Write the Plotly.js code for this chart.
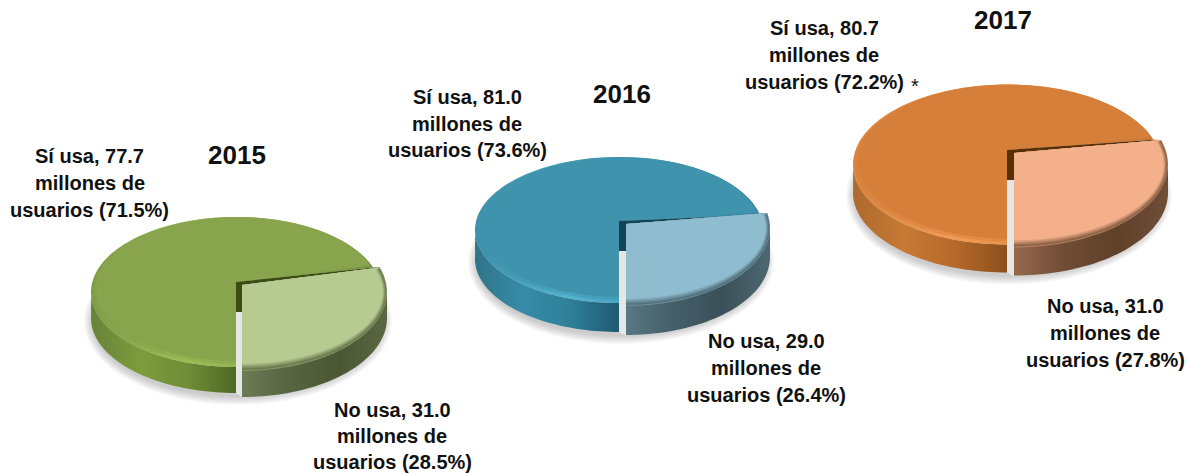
<!DOCTYPE html>
<html><head><meta charset="utf-8">
<script src="https://cdn.plot.ly/plotly-3.0.1.min.js"></script>
<style>html,body{margin:0;padding:0;background:#fff}#c{width:1189px;height:474px}</style></head>
<body><div id="c"></div>
<script>
// ---- data ----
const years    = ["2015", "2016", "2017"];
const siUsers  = ["77.7", "81.0", "80.7"];
const siShare  = [71.5, 73.6, 72.2];
const noUsers  = ["31.0", "29.0", "31.0"];
const noShare  = [28.5, 26.4, 27.8];

// ---- pie placement (like a domain for each pie) ----
const pies = [
 {cx:236,cy:292,rx:145,ry:75,ax:236,ay:282,depth:26,rot:6.5,sx:6,sy:3,smallDy:4,
  top:"#88a44c",small:"#b7ca91",rim:["#7f9b45","#9cbd55","#8fae49","#6f8a38"],
  wall:["#67823a","#7c9c3d","#6f8d36","#4e6a25"],wall2:["#6d7c55","#566440","#4b5733","#5b6643"],
  cut:"#3b4d12",
  title:[237,155],si:[89.5,[156,183,210]],no:[392,[410,436,462]]},
 {cx:619,cy:230,rx:144,ry:73,ax:619,ay:221,depth:29,rot:7,sx:7,sy:2,smallDy:5,
  top:"#4093ad",small:"#8fbccf",rim:["#3f8fa9","#52b4d0","#3f9ab6","#2f7f99"],
  wall:["#307389","#378ca8","#2f7f99","#1f5a70"],wall2:["#587883","#445e68","#3b5059","#4d6770"],
  cut:"#0f4557",
  title:[622,94],si:[467,[97,124,150]],no:[766,[341,368,395]]},
 {cx:1007,cy:164.5,rx:154,ry:80,ax:1007,ay:150,depth:28,rot:8,sx:7,sy:2,smallDy:3,
  top:"#d57f3b",small:"#f3b08a",rim:["#d98440","#f29a52","#e08a42","#c4722f"],
  wall:["#ad692f","#c67a33","#b5692a","#8c4f1c"],wall2:["#96694e","#6f4c36","#5f4029","#6f4e38"],
  cut:"#5a2f05",
  title:[1003,20],si:[824,[28,55,82]],no:[1105,[306,333,360]]}
];

// ---- helpers ----
function arc(p,rx,ry,dy,dx,t0,t1){
  const xs=[],ys=[],n=Math.max(2,Math.ceil(Math.abs(t1-t0)/2));
  for(let i=0;i<=n;i++){const t=(t0+(t1-t0)*i/n)*Math.PI/180;
    xs.push(p.cx+dx+rx*Math.sin(t));ys.push(p.cy+dy+ry*Math.cos(t));}
  return [xs,ys];
}
function scale(stops){return stops.map((c,i)=>[i/(stops.length-1),c]);}
function mix(a,b,f){const h=s=>[1,3,5].map(i=>parseInt(s.substr(i,2),16));const A=h(a),B=h(b);
  return "rgb("+A.map((v,i)=>Math.round(v+(B[i]-v)*f)).join(",")+")";}
function poly(x,y,color,grad){
  const tr={type:"scatter",mode:"none",x:x,y:y,fill:"toself",hoverinfo:"skip",showlegend:false};
  if(grad) tr.fillgradient={type:"horizontal",colorscale:scale(grad)}; else tr.fillcolor=color;
  return tr;
}
const traces=[], notes=[];
const font=(s)=>({family:'"Liberation Sans",Arial,sans-serif',size:s,color:"#111111"});
function note(x,y,t,s,plain){notes.push({x:x,y:y,xref:"x",yref:"y",text:plain?t:"<b>"+t+"</b>",showarrow:false,
  xanchor:"center",yanchor:"middle",font:font(s),borderpad:0});}

pies.forEach((p,k)=>{
  const split=noShare[k]*3.6+p.rot;           // boundary between the two slices, from the values
  const sx=p.sx, sy=p.sy, sd=p.smallDy;
  // soft ground shadow
  for(let i=0;i<7;i++){
    const a=arc(p,p.rx+1+i*1.3,p.ry+1+i*1.3,p.depth+3,2,0,360);
    traces.push(poly(a[0],a[1],"rgba(90,90,90,0.05)"));
  }
  // side wall of the large slice
  const wt=arc(p,p.rx,p.ry,0,0,268,360), wb=arc(p,p.rx,p.ry,p.depth,0,360,268);
  traces.push(poly(wt[0].concat(wb[0]),wt[1].concat(wb[1]),null,p.wall));
  // rim highlight + top face of the large slice
  const r0=arc(p,p.rx,p.ry,0,0,split,360);
  traces.push(poly([p.ax].concat(r0[0]),[p.ay].concat(r0[1]),null,p.rim));
  const rm=arc(p,p.rx-2,p.ry-2,-1,0.5,split,360);
  traces.push(Object.assign(poly([p.ax].concat(rm[0]),[p.ay].concat(rm[1]),p.top),{opacity:0.5}));
  const r1=arc(p,p.rx-4,p.ry-3,-3,1,split,360);
  traces.push(poly([p.ax].concat(r1[0]),[p.ay].concat(r1[1]),p.top));
  // cut faces
  const e=arc(p,p.rx,p.ry,0,0,split,split);
  const e2=arc(p,p.rx,p.ry+sd,sy-sd+1,sx,split-1,split-1);
  traces.push(poly([p.ax,e[0][0],e2[0][0],p.ax+sx,p.ax+sx,p.ax],
                   [p.ay,e[1][0],e2[1][0],p.ay+3,p.ay+30,p.ay+30],p.cut));
  // light gap between the slices
  traces.push(poly([p.ax,p.ax+sx,p.ax+sx,p.ax],
                   [p.ay+30,p.ay+30,p.cy+p.ry+p.depth+4,p.cy+p.ry+p.depth],"#e6e6e6"));
  // side wall of the small slice
  const st=arc(p,p.rx,p.ry+sd,sy-sd-2,sx,0,90), sb=arc(p,p.rx,p.ry+sd,sy-sd+1+p.depth,sx,90,0);
  traces.push(poly(st[0].concat(sb[0]),st[1].concat(sb[1]),null,p.wall2));
  // top face of the small slice, with soft front edge
  const layers=7;
  for(let i=0;i<layers;i++){
    const f=(i+1)/layers, g=i*1.2;
    const a=arc(p,p.rx-g*0.6,p.ry+sd-g,sy-sd+1,sx,0,split-1);
    traces.push(poly([p.ax+sx].concat(a[0]).concat([e2[0][0]]),[p.ay+3].concat(a[1]).concat([e2[1][0]]),i<1?mix(p.small,p.wall2[2],0.45):mix(p.wall2[2],p.small,f)));
  }
  // texts, built from the values
  note(p.title[0],p.title[1],years[k],26);
  const siL=["Sí usa, "+siUsers[k],"millones de","usuarios ("+siShare[k].toFixed(1)+"%)"];
  const noL=["No usa, "+noUsers[k],"millones de","usuarios ("+noShare[k].toFixed(1)+"%)"];
  siL.forEach((t,i)=>note(p.si[0],p.si[1][i],t,20));
  noL.forEach((t,i)=>note(p.no[0],p.no[1][i],t,20));
});
note(915,86,"*",20,true);

const hidden={visible:false,fixedrange:true};
Plotly.newPlot("c",traces,{
  width:1189,height:474,margin:{l:0,r:0,t:0,b:0},paper_bgcolor:"#fff",plot_bgcolor:"#fff",showlegend:false,
  xaxis:Object.assign({range:[0,1189]},hidden),
  yaxis:Object.assign({range:[474,0]},hidden),
  annotations:notes
},{displayModeBar:false,staticPlot:true});
</script></body></html>
